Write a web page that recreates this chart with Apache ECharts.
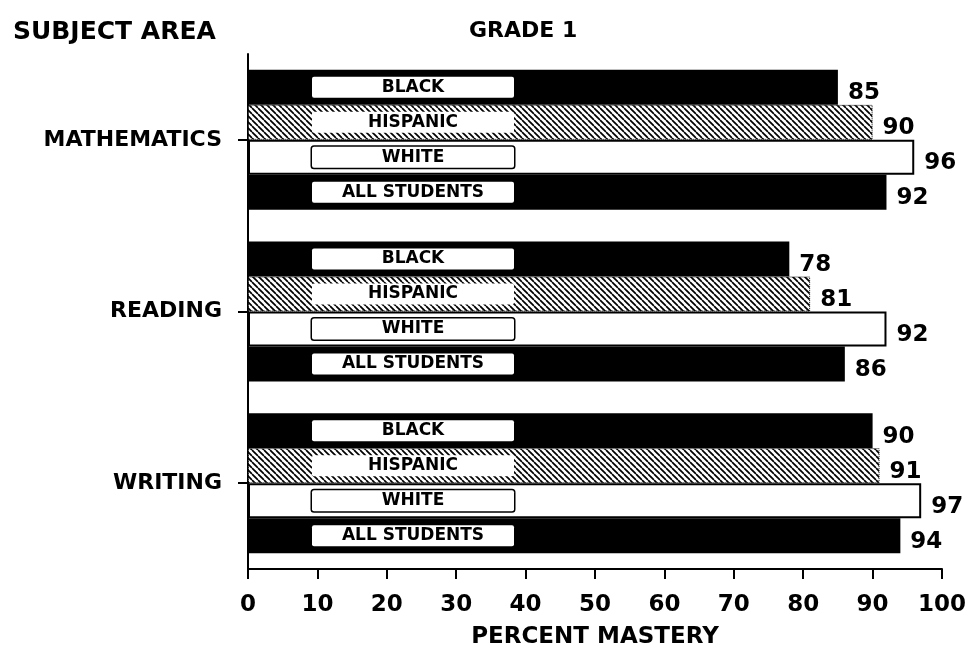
<!DOCTYPE html>
<html><head><meta charset="utf-8">
<script src="https://cdn.jsdelivr.net/npm/echarts@6/dist/echarts.min.js"></script>
<style>html,body{margin:0;padding:0;background:#fff}#c{width:973px;height:656px}</style>
</head><body><div id="c"></div>
<script>
var categories = ['MATHEMATICS', 'READING', 'WRITING'];
var groups = ['BLACK', 'HISPANIC', 'WHITE', 'ALL STUDENTS'];
var black = [85, 78, 90];
var hispanic = [90, 81, 91];
var white = [96, 92, 97];
var allStudents = [92, 86, 94];
var xTicks = [0, 10, 20, 30, 40, 50, 60, 70, 80, 90, 100];

var FONT = 'DejaVu Sans';
var hatch = document.createElement('canvas');
hatch.width = 6; hatch.height = 6;
(function(){
  var g = hatch.getContext('2d');
  g.fillStyle = '#fff'; g.fillRect(0,0,6,6);
  g.strokeStyle = '#000'; g.lineWidth = 1.7;
  for (var k = -6; k <= 6; k += 6) { g.beginPath(); g.moveTo(k,0); g.lineTo(k+6,6); g.stroke(); }
})();

var values = [black, hispanic, white, allStudents];
var styles = [
  {color:'#000'},
  {color:{image:hatch, repeat:'repeat'}, borderColor:'#000', borderWidth:1, borderType:'dotted'},
  {color:'#fff', borderColor:'#000', borderWidth:2},
  {color:'#000'}
];
var series = [];
groups.forEach(function(name, i){
  series.push({
    type:'bar', name:name, stack:'s'+i, data:values[i], itemStyle:styles[i],
    barWidth:35, barGap:'0%',
    label:{show:true, position:[64,'50%'], verticalAlign:'middle', align:'left',
      formatter:'{a|'+name+'}',
      backgroundColor:'#fff', borderColor: i===2 ? '#000' : '#fff', borderWidth: i===2 ? 1.5 : 0,
      borderRadius:2, padding:[2,0],
      rich:{a:{width:202, align:'center', fontFamily:FONT, fontWeight:'bold', fontSize:17, color:'#000', lineHeight:17}}
    },
    silent:true, animation:false
  });
  series.push({
    type:'bar', name:name+'_v', stack:'s'+i, data:values[i].map(function(){return 0;}),
    itemStyle:{color:'transparent'},
    label:{show:true, position:'right', distance:10, offset:[0,6],
      formatter:function(p){return String(values[i][p.dataIndex]);},
      fontFamily:FONT, fontWeight:'bold', fontSize:23, color:'#000'},
    silent:true, animation:false
  });
});

var chart = echarts.init(document.getElementById('c'), null, {renderer:'canvas'});
chart.setOption({
  backgroundColor:'#fff',
  animation:false,
  title:[
    {text:'SUBJECT AREA', left:8, top:15, textStyle:{fontFamily:FONT, fontWeight:'bold', fontSize:25, color:'#000'}},
    {text:'GRADE 1', left:464, top:15, textStyle:{fontFamily:FONT, fontWeight:'bold', fontSize:22, color:'#000'}}
  ],
  grid:{left:248, right:31, top:54, bottom:87, outerBoundsMode:'none', containLabel:false},
  xAxis:{type:'value', min:0, max:100, interval:10,
    name:'PERCENT MASTERY', nameLocation:'middle', nameGap:57,
    nameTextStyle:{fontFamily:FONT, fontWeight:'bold', fontSize:23, color:'#000'},
    axisLine:{show:true, lineStyle:{color:'#000', width:2}},
    axisTick:{show:true, length:10, lineStyle:{color:'#000', width:2}},
    axisLabel:{margin:25, fontFamily:FONT, fontWeight:'bold', fontSize:23, color:'#000',
      formatter:function(v){return xTicks.indexOf(v) >= 0 ? String(v) : '';}},
    splitLine:{show:false}
  },
  yAxis:{type:'category', inverse:true, data:categories,
    axisLine:{show:true, lineStyle:{color:'#000', width:2}},
    axisTick:{show:true, alignWithLabel:true, length:10, lineStyle:{color:'#000', width:2}},
    axisLabel:{margin:26, fontFamily:FONT, fontWeight:'bold', fontSize:22, color:'#000'}
  },
  series:series
});
</script></body></html>
